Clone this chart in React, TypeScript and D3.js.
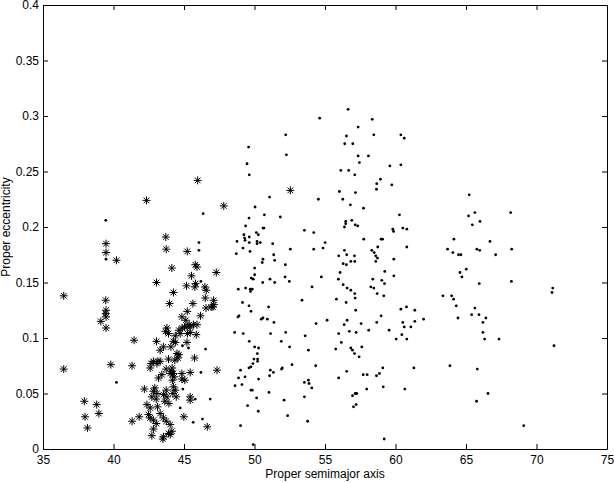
import React, { useEffect, useRef } from 'react'
import * as d3 from 'd3'

const xTicks = [35, 40, 45, 50, 55, 60, 65, 70, 75]
const yTicks = [0, 0.05, 0.1, 0.15, 0.2, 0.25, 0.3, 0.35, 0.4]
const yTickLabels = ['0', '0.05', '0.1', '0.15', '0.2', '0.25', '0.3', '0.35', '0.4']

// small dots: proper semimajor axis / proper eccentricity
const dotSemimajor = [
  56.64, 54.62, 58.35, 57.35, 52.21, 56.52, 58.46, 60.38, 60.62, 49.58, 56.40, 56.97, 52.26, 57.35, 58.08, 49.47,
  57.44, 59.60, 60.38, 49.63, 56.12, 56.68, 57.11, 58.93, 58.67, 59.74, 58.65, 51.07, 56.02, 57.16, 54.53, 56.26,
  50.04, 56.80, 57.73, 50.70, 51.83, 49.61, 60.28, 56.47, 56.47, 56.90, 57.14, 57.32, 56.38, 49.37, 50.60, 50.67,
  59.81, 59.86, 60.52, 60.80, 53.54, 54.20, 50.13, 49.25, 49.30, 49.33, 49.63, 50.27, 48.76, 49.63, 50.18, 50.18,
  50.41, 57.75, 58.98, 59.08, 51.29, 55.01, 49.18, 58.74, 60.80, 49.68, 52.54, 54.20, 54.86, 56.38, 58.32, 58.49,
  48.71, 56.54, 58.60, 58.72, 58.60, 57.09, 57.11, 56.83, 55.97, 51.36, 51.43, 50.60, 50.55, 59.88, 56.29, 56.52,
  52.19, 50.01, 59.24, 56.07, 50.01, 49.77, 49.91, 59.88, 52.17, 54.74, 51.10, 58.39, 55.95, 50.58, 48.85, 49.37,
  49.70, 49.84, 49.72, 52.47, 51.43, 54.08, 53.37, 56.29, 56.57, 56.83, 57.11, 57.14, 55.81, 56.50, 57.18, 58.25,
  58.46, 58.70, 59.03, 59.22, 59.17, 49.15, 49.61, 49.75, 51.00, 48.83, 48.90, 50.48, 50.60, 50.91, 51.38, 54.37,
  55.15, 56.57, 56.36, 57.56, 58.67, 58.98, 60.38, 60.78, 60.52, 60.62, 59.55, 60.05, 60.45, 60.80, 48.59, 49.20,
  51.14, 52.21, 53.59, 55.97, 56.73, 57.21, 58.10, 49.63, 51.90, 52.49, 53.82, 56.16, 55.76, 56.83, 56.95, 57.09,
  57.42, 57.61, 50.01, 50.29, 50.20, 50.22, 50.22, 49.96, 49.89, 49.75, 49.61, 49.01, 48.87, 49.33, 48.62, 49.11,
  50.29, 51.12, 51.34, 51.07, 51.92, 51.97, 52.66, 54.34, 53.54, 53.82, 53.87, 54.06, 53.54, 55.97, 56.54, 57.71,
  57.99, 58.65, 58.86, 59.10, 57.96, 59.13, 56.95, 57.14, 57.25, 57.02, 57.21, 60.66, 49.75, 49.84, 50.15, 51.03,
  52.10, 49.51, 50.27, 52.35, 53.77, 49.01, 59.20, 49.91, 65.23, 65.63, 65.18, 65.45, 65.99, 68.17, 64.14, 63.69,
  64.07, 64.47, 64.64, 65.77, 65.97, 66.70, 67.10, 68.24, 65.02, 64.57, 64.71, 65.94, 68.22, 63.36, 63.98, 64.12,
  71.15, 71.10, 61.37, 61.37, 61.99, 61.09, 64.31, 64.43, 65.63, 65.40, 65.92, 66.41, 66.20, 66.20, 66.32, 67.34,
  71.24, 61.30, 63.86, 65.80, 66.56, 65.75, 69.09, 46.36, 46.06, 46.06, 46.20, 46.53, 44.89, 45.32, 46.20, 44.92,
  46.86, 45.80, 44.73, 46.31, 45.65, 40.21, 39.45, 39.47,
]
const dotEccentricity = [
  0.306, 0.298, 0.297, 0.290, 0.283, 0.282, 0.283, 0.283, 0.280, 0.272, 0.275, 0.275, 0.265, 0.264, 0.264, 0.257,
  0.258, 0.255, 0.256, 0.247, 0.251, 0.251, 0.247, 0.243, 0.239, 0.238, 0.234, 0.227, 0.232, 0.231, 0.225, 0.225,
  0.218, 0.220, 0.217, 0.211, 0.209, 0.208, 0.211, 0.205, 0.203, 0.206, 0.202, 0.201, 0.200, 0.201, 0.199, 0.199,
  0.198, 0.196, 0.199, 0.198, 0.197, 0.195, 0.195, 0.193, 0.190, 0.188, 0.191, 0.193, 0.187, 0.186, 0.187, 0.185,
  0.186, 0.189, 0.189, 0.189, 0.185, 0.186, 0.181, 0.182, 0.182, 0.178, 0.180, 0.180, 0.181, 0.179, 0.179, 0.177,
  0.176, 0.175, 0.174, 0.172, 0.169, 0.174, 0.169, 0.169, 0.174, 0.175, 0.170, 0.171, 0.168, 0.171, 0.167, 0.166,
  0.166, 0.163, 0.160, 0.159, 0.157, 0.154, 0.153, 0.156, 0.155, 0.155, 0.153, 0.153, 0.153, 0.150, 0.144, 0.145,
  0.144, 0.144, 0.142, 0.151, 0.150, 0.146, 0.134, 0.148, 0.145, 0.143, 0.140, 0.136, 0.135, 0.132, 0.125, 0.146,
  0.145, 0.140, 0.152, 0.149, 0.138, 0.132, 0.129, 0.124, 0.128, 0.119, 0.120, 0.117, 0.118, 0.117, 0.114, 0.113,
  0.116, 0.116, 0.112, 0.113, 0.114, 0.120, 0.126, 0.128, 0.114, 0.110, 0.107, 0.099, 0.103, 0.099, 0.105, 0.104,
  0.104, 0.105, 0.102, 0.104, 0.106, 0.105, 0.107, 0.097, 0.097, 0.092, 0.089, 0.096, 0.090, 0.091, 0.089, 0.086,
  0.083, 0.092, 0.092, 0.091, 0.086, 0.081, 0.079, 0.081, 0.077, 0.074, 0.073, 0.071, 0.064, 0.065, 0.057, 0.058,
  0.063, 0.071, 0.069, 0.066, 0.072, 0.073, 0.076, 0.075, 0.060, 0.062, 0.059, 0.055, 0.047, 0.064, 0.070, 0.067,
  0.067, 0.066, 0.068, 0.073, 0.054, 0.056, 0.048, 0.050, 0.050, 0.038, 0.040, 0.054, 0.053, 0.053, 0.046, 0.051,
  0.044, 0.039, 0.034, 0.030, 0.025, 0.021, 0.009, 0.004, 0.229, 0.213, 0.210, 0.202, 0.205, 0.213, 0.189, 0.180,
  0.177, 0.175, 0.175, 0.180, 0.179, 0.187, 0.175, 0.180, 0.162, 0.159, 0.155, 0.149, 0.151, 0.138, 0.138, 0.135,
  0.145, 0.141, 0.125, 0.115, 0.117, 0.110, 0.129, 0.118, 0.127, 0.121, 0.121, 0.118, 0.114, 0.105, 0.099, 0.099,
  0.093, 0.073, 0.075, 0.072, 0.050, 0.043, 0.021, 0.212, 0.186, 0.179, 0.151, 0.090, 0.093, 0.091, 0.069, 0.054,
  0.045, 0.045, 0.037, 0.027, 0.024, 0.060, 0.206, 0.171,
]

// asterisks
const starSemimajor = [
  45.97, 42.34, 47.82, 52.54, 39.47, 39.47, 40.21, 43.71, 43.74, 45.23, 45.80, 45.92, 44.14, 47.29, 45.53, 43.05,
  36.47, 39.45, 39.47, 39.45, 39.47, 39.10, 39.47, 44.25, 45.18, 45.82, 45.77, 46.48, 46.58, 43.97, 45.63, 46.51,
  47.10, 47.12, 46.93, 47.05, 46.56, 45.23, 46.17, 44.85, 45.13, 45.37, 45.04, 45.23, 45.44, 45.67, 45.92, 45.87,
  45.44, 45.25, 44.73, 44.64, 44.87, 43.79, 43.69, 43.90, 44.38, 44.25, 44.38, 44.07, 43.54, 43.31, 43.05, 45.21,
  44.50, 44.64, 44.57, 44.35, 45.75, 43.90, 43.15, 42.83, 42.67, 43.08, 44.16, 44.11, 44.25, 44.02, 44.30, 44.18,
  43.74, 43.43, 43.19, 44.85, 45.44, 45.06, 47.34, 42.93, 42.83, 43.08, 42.72, 43.03, 43.12, 43.74, 43.54, 43.79,
  43.64, 43.93, 44.25, 44.38, 44.21, 44.45, 45.44, 44.99, 43.31, 43.54, 43.74, 44.02, 44.14, 43.90, 43.54, 43.03,
  42.83, 46.65, 42.72, 43.50, 41.46, 39.81, 41.32, 42.19, 41.32, 41.82, 42.37, 42.60, 42.48, 42.60, 42.83, 42.60,
  43.31, 44.85, 45.44, 44.02, 36.47, 37.93, 38.81, 37.98, 38.96, 38.15,
]
const starEccentricity = [
  0.242, 0.224, 0.219, 0.233, 0.185, 0.177, 0.170, 0.191, 0.180, 0.178, 0.166, 0.164, 0.163, 0.159, 0.156, 0.150,
  0.138, 0.134, 0.125, 0.122, 0.119, 0.115, 0.109, 0.141, 0.147, 0.149, 0.146, 0.146, 0.143, 0.131, 0.131, 0.136,
  0.134, 0.130, 0.128, 0.128, 0.127, 0.124, 0.120, 0.119, 0.116, 0.112, 0.110, 0.110, 0.110, 0.112, 0.112, 0.103,
  0.105, 0.104, 0.104, 0.107, 0.109, 0.109, 0.106, 0.104, 0.102, 0.097, 0.096, 0.092, 0.092, 0.089, 0.097, 0.096,
  0.086, 0.085, 0.082, 0.080, 0.082, 0.081, 0.079, 0.079, 0.077, 0.077, 0.073, 0.070, 0.068, 0.068, 0.065, 0.062,
  0.072, 0.067, 0.064, 0.068, 0.069, 0.062, 0.071, 0.055, 0.052, 0.050, 0.047, 0.045, 0.038, 0.053, 0.049, 0.047,
  0.043, 0.041, 0.056, 0.053, 0.050, 0.047, 0.047, 0.029, 0.032, 0.028, 0.025, 0.022, 0.016, 0.014, 0.011, 0.023,
  0.018, 0.020, 0.012, 0.009, 0.098, 0.076, 0.075, 0.054, 0.025, 0.029, 0.040, 0.037, 0.031, 0.028, 0.026, 0.073,
  0.079, 0.063, 0.044, 0.013, 0.072, 0.043, 0.040, 0.029, 0.032, 0.019,
]

const width = 614
const height = 483
const margin = { top: 5, right: 7, bottom: 34, left: 43 }
const font = '"Liberation Sans", Arial, Helvetica, sans-serif'

// matlab style '*' marker
const asterisk = {
  draw(context: d3.Path, size: number) {
    const r = Math.sqrt(size)
    const d = r * 0.7071
    context.moveTo(-r, 0); context.lineTo(r, 0)
    context.moveTo(0, -r); context.lineTo(0, r)
    context.moveTo(-d, -d); context.lineTo(d, d)
    context.moveTo(-d, d); context.lineTo(d, -d)
  },
}

export default function App() {
  const ref = useRef<SVGSVGElement>(null)

  useEffect(() => {
    document.body.style.margin = '0'
    const svg = d3.select(ref.current)
    svg.selectAll('*').remove()

    const x = d3.scaleLinear().domain([35, 75]).range([margin.left, width - margin.right])
    const y = d3.scaleLinear().domain([0, 0.4]).range([height - margin.bottom, margin.top])

    const styleAxis = (g: any) => {
      g.attr('font-family', font).attr('font-size', 12)
      g.selectAll('text').attr('fill', '#000')
      g.selectAll('line, path').attr('stroke', '#000')
    }

    svg.append('g')
      .attr('transform', `translate(0,${height - margin.bottom})`)
      .call(d3.axisBottom(x).tickValues(xTicks).tickSizeInner(-5).tickSizeOuter(0).tickPadding(6).tickFormat(d3.format('d')))
      .call(styleAxis)
    svg.append('g')
      .attr('transform', `translate(0,${margin.top})`)
      .call(d3.axisTop(x).tickValues(xTicks).tickSizeInner(-5).tickSizeOuter(0).tickFormat(() => ''))
      .call(styleAxis)
    svg.append('g')
      .attr('transform', `translate(${margin.left},0)`)
      .call(d3.axisLeft(y).tickValues(yTicks).tickSizeInner(-5).tickSizeOuter(0).tickPadding(4)
        .tickFormat((d, i) => yTickLabels[i]))
      .call(styleAxis)
    svg.append('g')
      .attr('transform', `translate(${width - margin.right},0)`)
      .call(d3.axisRight(y).tickValues(yTicks).tickSizeInner(-5).tickSizeOuter(0).tickFormat(() => ''))
      .call(styleAxis)

    svg.append('g')
      .selectAll('circle')
      .data(d3.range(dotSemimajor.length))
      .enter()
      .append('circle')
        .attr('cx', i => x(dotSemimajor[i]))
        .attr('cy', i => y(dotEccentricity[i]))
        .attr('r', 1.4)
        .attr('fill', '#000')

    const star = d3.symbol().type(asterisk as any).size(16)
    svg.append('g')
      .selectAll('path')
      .data(d3.range(starSemimajor.length))
      .enter()
      .append('path')
        .attr('transform', i => `translate(${x(starSemimajor[i])},${y(starEccentricity[i])})`)
        .attr('d', star as any)
        .attr('fill', 'none')
        .attr('stroke', '#000')
        .attr('stroke-width', 1)

    svg.append('text')
      .attr('x', (margin.left + width - margin.right) / 2)
      .attr('y', 478)
      .attr('text-anchor', 'middle')
      .attr('font-family', font)
      .attr('font-size', 12)
      .text('Proper semimajor axis')

    svg.append('text')
      .attr('transform', `translate(10,${(margin.top + height - margin.bottom) / 2}) rotate(-90)`)
      .attr('text-anchor', 'middle')
      .attr('font-family', font)
      .attr('font-size', 12)
      .text('Proper eccentricity')
  }, [])

  return <svg ref={ref} width={width} height={height} style={{ display: 'block', background: '#fff' }} />
}
